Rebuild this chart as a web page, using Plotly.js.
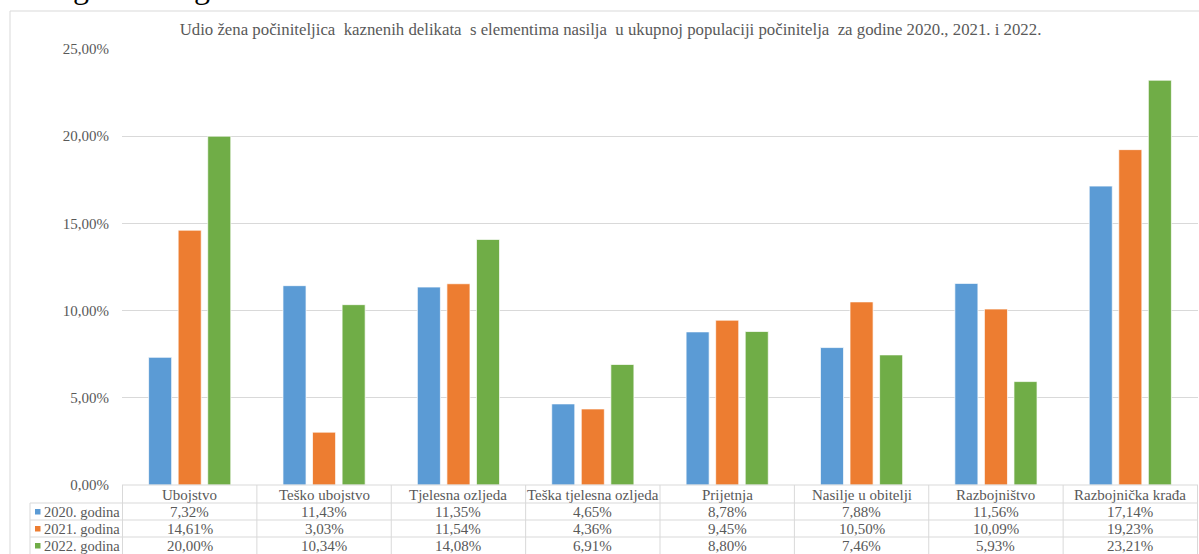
<!DOCTYPE html>
<html>
<head>
<meta charset="utf-8">
<script src="https://cdn.plot.ly/plotly-3.0.1.min.js"></script>
<style>html,body{margin:0;padding:0;background:#fff;}#chart{width:1199px;height:554px;}</style>
</head>
<body>
<div id="chart"></div>
<script>
const categories = ['Ubojstvo','Teško ubojstvo','Tjelesna ozljeda','Teška tjelesna ozljeda','Prijetnja','Nasilje u obitelji','Razbojništvo','Razbojnička krađa'];
const seriesNames = ['2020. godina','2021. godina','2022. godina'];
const values2020 = [7.32, 11.43, 11.35, 4.65, 8.78, 7.88, 11.56, 17.14];
const values2021 = [14.61, 3.03, 11.54, 4.36, 9.45, 10.50, 10.09, 19.23];
const values2022 = [20.00, 10.34, 14.08, 6.91, 8.80, 7.46, 5.93, 23.21];
const yTicks = [0, 5, 10, 15, 20, 25];
const titleText = 'Udio žena počiniteljica\u00a0 kaznenih delikata\u00a0 s elementima nasilja\u00a0 u ukupnoj populaciji počinitelja\u00a0 za godine 2020., 2021. i 2022.';
const headingText = '2021.g. i 2022.g.';

const colors = ['#5b9bd5', '#ed7d31', '#70ad47'];
const allValues = [values2020, values2021, values2022];
const FONT = '"Liberation Serif", "Times New Roman", serif';
const GRAY = '#595959';
const LINE = '#d9d9d9';

const W_PX = 1199, H_PX = 554;
const L = 122, T = 49, R = 1, B = 69;
const PW = W_PX - L - R, PH = H_PX - T - B;
const px = x => (x - L) / PW;
const py = y => (T + PH - y) / PH;

const fmt = v => v.toFixed(2).replace('.', ',') + '%';

const traces = allValues.map((vals, i) => ({
  type: 'bar',
  name: seriesNames[i],
  x: categories,
  y: vals,
  marker: {color: colors[i], line: {color: 'rgba(255,255,255,0.7)', width: 1}},
  hoverinfo: 'x+y+name'
}));

const shapes = [];
const annotations = [];

// outer chart frame
shapes.push({type:'rect', xref:'paper', yref:'paper', x0:px(10), x1:px(1205), y0:py(560), y1:py(11), line:{color:LINE, width:1}, fillcolor:'rgba(0,0,0,0)', layer:'below'});

// table horizontal lines
[503, 520, 537].forEach(y => shapes.push({type:'line', xref:'paper', yref:'paper', x0:px(30), x1:px(1198), y0:py(y), y1:py(y), line:{color:LINE, width:1}}));
shapes.push({type:'line', xref:'paper', yref:'paper', x0:px(122), x1:px(1198), y0:py(485), y1:py(485), line:{color:LINE, width:1}});
// table vertical lines
for (let i = 0; i <= categories.length; i++) {
  shapes.push({type:'line', xref:'x', yref:'paper', x0:i-0.5, x1:i-0.5, y0:py(485), y1:py(556), line:{color:LINE, width:1}});
}
shapes.push({type:'line', xref:'paper', yref:'paper', x0:px(30), x1:px(30), y0:py(503), y1:py(556), line:{color:LINE, width:1}});

const rowCenters = [511.5, 528.5, 545.5];
// header row (category names)
categories.forEach(c => annotations.push({xref:'x', yref:'paper', x:c, y:py(494.5), text:c, showarrow:false, xanchor:'center', yanchor:'middle', font:{family:FONT, size:15, color:GRAY}}));
// series rows
allValues.forEach((vals, i) => {
  const yc = rowCenters[i];
  shapes.push({type:'rect', xref:'paper', yref:'paper', x0:px(35), x1:px(40.5), y0:py(yc+3), y1:py(yc-2.5), fillcolor:colors[i], line:{width:0}});
  annotations.push({xref:'paper', yref:'paper', x:px(42), y:py(yc), text:seriesNames[i], showarrow:false, xanchor:'left', yanchor:'middle', font:{family:FONT, size:14.5, color:GRAY}});
  vals.forEach((v, j) => annotations.push({xref:'x', yref:'paper', x:categories[j], y:py(yc), text:fmt(v), showarrow:false, xanchor:'center', yanchor:'middle', font:{family:FONT, size:15, color:GRAY}}));
});

// cropped document heading at the top
annotations.push({xref:'paper', yref:'paper', x:px(-1), y:py(6.5), text:headingText, showarrow:false, xanchor:'left', yanchor:'bottom', font:{family:FONT, size:32, color:'#000000'}});

const layout = {
  width: W_PX, height: H_PX,
  margin: {l:L, r:R, t:T, b:B, pad:0},
  paper_bgcolor: '#ffffff', plot_bgcolor: '#ffffff',
  separators: ',.',
  showlegend: false,
  barmode: 'group', bargap: 0.34, bargroupgap: 0.22,
  title: {text: titleText, x: 610.5/W_PX, xanchor:'center', y: 1 - 29/H_PX, yanchor:'middle', yref:'container', font:{family:FONT, size:16.8, color:GRAY}},
  xaxis: {type:'category', showticklabels:false, showgrid:false, zeroline:false, showline:false, ticks:'', fixedrange:true},
  yaxis: {range:[0, 25], tickmode:'array', tickvals:yTicks, ticktext:yTicks.map(fmt), showgrid:true, gridcolor:LINE, gridwidth:1, zeroline:false, showline:false, ticks:'', ticklabelstandoff:12, tickfont:{family:FONT, size:15, color:GRAY}, fixedrange:true},
  shapes: shapes,
  annotations: annotations
};

Plotly.newPlot('chart', traces, layout, {displayModeBar:false, staticPlot:true});
</script>
</body>
</html>
